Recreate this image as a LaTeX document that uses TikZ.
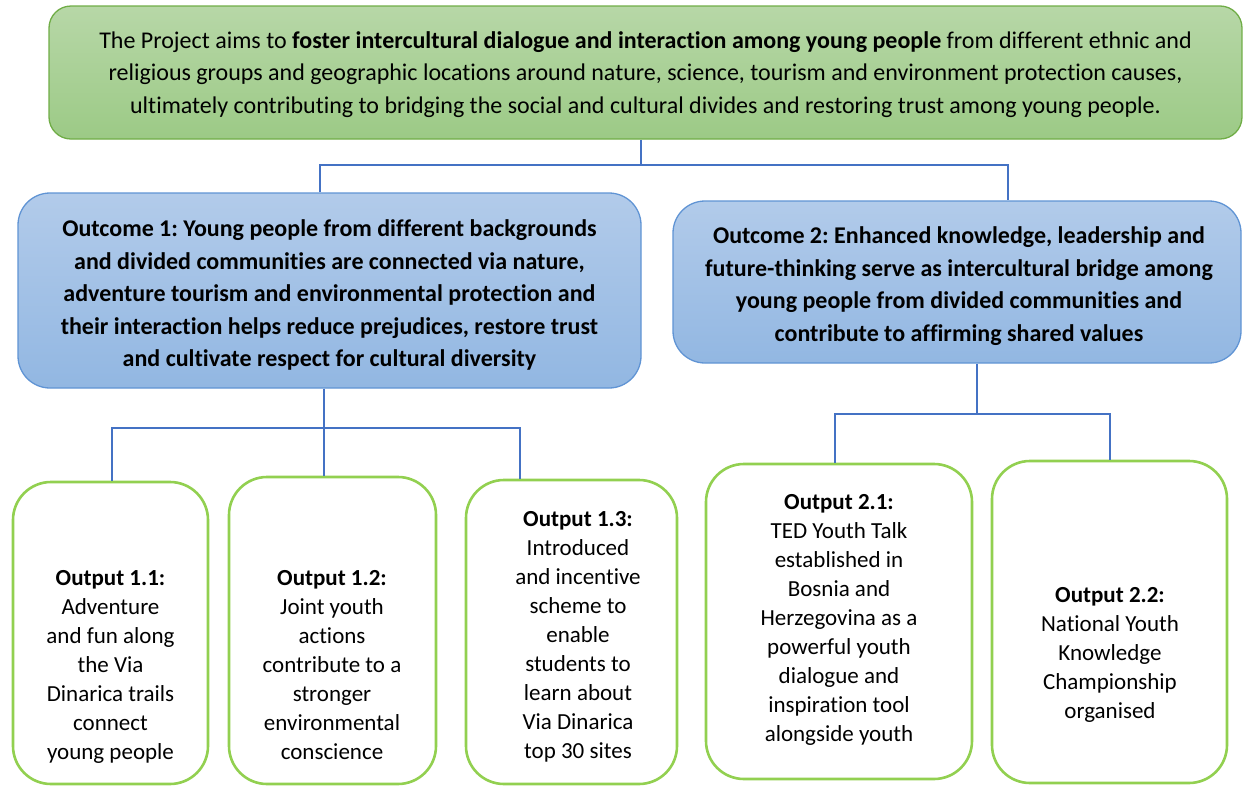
\documentclass[tikz,border=0pt]{standalone}
\usepackage{fontspec}
\setmainfont[Ligatures={NoCommon,NoRare},Contextuals=NoAlternate]{Carlito}
\frenchspacing
\usetikzlibrary{calc}
\definecolor{gtop}{RGB}{183,215,167}
\definecolor{gbot}{RGB}{156,202,134}
\definecolor{gline}{RGB}{112,173,71}
\definecolor{btop}{RGB}{178,203,234}
\definecolor{bbot}{RGB}{146,183,226}
\definecolor{bline}{RGB}{96,148,212}
\definecolor{oline}{RGB}{146,208,80}
\definecolor{link}{RGB}{68,114,196}
\tikzset{
  goalbox/.style={draw=gline, line width=1.3pt, rounded corners=22pt, top color=gtop, bottom color=gbot, inner sep=0pt},
  outcomebox/.style={draw=bline, line width=1.3pt, rounded corners=32pt, top color=btop, bottom color=bbot, inner sep=0pt},
  outputbox/.style={draw=oline, line width=2.6pt, rounded corners=38pt, fill=white, inner sep=0pt},
  linkline/.style={draw=link, line width=1.2pt},
  bigtxt/.style={align=center, inner sep=0pt, font=\fontsize{24}{32.5}\selectfont},
  boldtxt/.style={align=center, inner sep=0pt, font=\fontsize{24}{32.5}\selectfont\bfseries},
  smalltxt/.style={align=center, inner sep=0pt, anchor=north, font=\fontsize{23}{29}\selectfont},
}
\begin{document}
\begin{tikzpicture}[x=1pt,y=-1pt]
\useasboundingbox (0,0) rectangle (1243,785);
% boxes
\node[goalbox, minimum width=1193pt, minimum height=133pt] (goal) at (645.5,72.5) {};
\node[outcomebox, minimum width=623pt, minimum height=195pt] (oc1) at (329.5,290.5) {};
\node[outcomebox, minimum width=568pt, minimum height=162pt] (oc2) at (957,282) {};
\node[outputbox, minimum width=195pt, minimum height=302pt] (op11) at (110.5,633) {};
\node[outputbox, minimum width=207pt, minimum height=307pt] (op12) at (332.5,630.5) {};
\node[outputbox, minimum width=211pt, minimum height=304pt] (op13) at (571.5,632) {};
\node[outputbox, minimum width=266pt, minimum height=315pt] (op21) at (839,621.5) {};
\node[outputbox, minimum width=235pt, minimum height=322pt] (op22) at (1109.5,622) {};
% texts
\node[bigtxt] (goaltxt) at (645.5,74.5) {The Project aims to \textbf{foster intercultural dialogue and interaction among young people} from different ethnic and\\religious groups and geographic locations around nature, science, tourism and environment protection causes,\\ultimately contributing to bridging the social and cultural divides and restoring trust among young people.};
\node[boldtxt] (oc1txt) at (329.5,295) {Outcome 1: Young people from different backgrounds\\and divided communities are connected via nature,\\adventure tourism and environmental protection and\\their interaction helps reduce prejudices, restore trust\\and cultivate respect for cultural diversity};
\node[boldtxt] (oc2txt) at (959,286) {Outcome 2: Enhanced knowledge, leadership and\\future-thinking serve as intercultural bridge among\\young people from divided communities and\\contribute to affirming shared values};
\node[smalltxt] (t11) at (110.5,570) {\textbf{Output 1.1:}\\Adventure\\and fun along\\the Via\\Dinarica trails\\connect\\young people};
\node[smalltxt] (t12) at (332,570) {\textbf{Output 1.2:}\\Joint youth\\actions\\contribute to a\\stronger\\environmental\\conscience};
\node[smalltxt] (t13) at (578,511) {\textbf{Output 1.3:}\\Introduced\\and incentive\\scheme to\\enable\\students to\\learn about\\Via Dinarica\\top 30 sites};
\node[smalltxt] (t21) at (839,494) {\textbf{Output 2.1:}\\TED Youth Talk\\established in\\Bosnia and\\Herzegovina as a\\powerful youth\\dialogue and\\inspiration tool\\alongside youth};
\node[smalltxt] (t22) at (1110,587) {\textbf{Output 2.2:}\\National Youth\\Knowledge\\Championship\\organised};
% connectors
\coordinate (ja) at (641,165);
\coordinate (jb) at (320,165);
\coordinate (jc) at (1008,165);
\draw[linkline] (ja |- goal.south) -- (ja);
\draw[linkline] (jb |- oc1.north) -- (jb) -- (jc) -- (jc |- oc2.north);
\coordinate (ka) at (324,428);
\coordinate (kb) at (112,428);
\coordinate (kc) at (520,428);
\draw[linkline] (ka |- oc1.south) -- (ka) -- (ka |- op12.north);
\draw[linkline] (kb |- op11.north) -- (kb) -- (kc) -- (kc |- op13.north);
\coordinate (ma) at (977,414);
\coordinate (mb) at (835,414);
\coordinate (mc) at (1110,414);
\draw[linkline] (ma |- oc2.south) -- (ma);
\draw[linkline] (mb |- op21.north) -- (mb) -- (mc) -- (mc |- op22.north);
\end{tikzpicture}
\end{document}
